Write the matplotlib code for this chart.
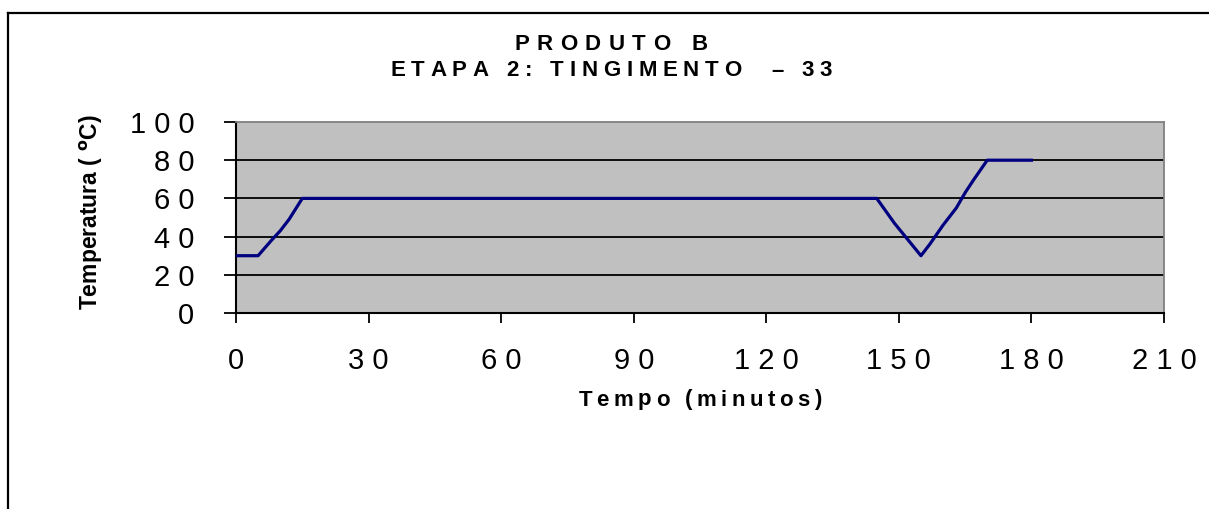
import numpy as np
import matplotlib
matplotlib.use('Agg')
import matplotlib.pyplot as plt
from matplotlib.font_manager import FontProperties
from matplotlib.textpath import text_to_path
from matplotlib.lines import Line2D

# dados
tempo = [0, 5, 8, 10, 12, 15, 145, 149, 155, 157, 160, 163, 165, 167, 170, 180]
temperatura = [30, 30, 38, 43, 49, 60, 60, 47, 30, 36, 46, 55, 63, 70, 80, 80]

xticks = [0, 30, 60, 90, 120, 150, 180, 210]
yticks = [0, 20, 40, 60, 80, 100]
xtick_labels = [' '.join(str(v)) for v in xticks]
ytick_labels = [' '.join(str(v)) for v in yticks]

titulo1 = 'PRODUTO B'
titulo2 = 'ETAPA 2: TINGIMENTO  – 33'
xlabel = 'Tempo (minutos)'
ylabel = 'Temperatura ( $^{\\mathbf{o}}$C)'

W, H = 1209, 509
DPI = 100
FONT = 'Liberation Sans'

fig = plt.figure(figsize=(W / DPI, H / DPI), dpi=DPI)


def texto_espacado(xc, yc, s, size, track, weight='bold'):
    # escreve letra por letra com espacamento extra (px), centrado em (xc, yc) px
    fp = FontProperties(family=FONT, size=size, weight=weight)
    larg = []
    for c in s:
        if c == ' ':
            larg.append(0.278 * size * DPI / 72)
        else:
            w, h, d = text_to_path.get_text_width_height_descent(c, fp, ismath=False)
            larg.append(w * DPI / 72)
    total = sum(larg) + track * (len(s) - 1)
    x = xc - total / 2
    for c, w in zip(s, larg):
        if c != ' ':
            fig.text(x / W, 1 - yc / H, c, fontproperties=fp, ha='left', va='center')
        x += w + track


ax = fig.add_axes([236 / W, 1 - 313 / H, (1164 - 236) / W, (313 - 122) / H])
ax.set_facecolor('#C0C0C0')
ax.plot(tempo, temperatura, color='#000080', lw=2.3, solid_joinstyle='round', zorder=3)

ax.set_xlim(0, 210)
ax.set_ylim(0, 100)
ax.set_xticks(xticks)
ax.set_xticklabels(xtick_labels, fontsize=21, family=FONT)
ax.set_yticks(yticks)
ax.set_yticklabels(ytick_labels, fontsize=21, family=FONT)
ax.tick_params(axis='x', direction='out', length=7.5, width=1.3, pad=17)
ax.tick_params(axis='y', direction='out', length=9, width=1.3, pad=21)

for v in yticks[1:-1]:
    ax.axhline(v, color='black', lw=1.3, zorder=1)

ax.spines['left'].set_linewidth(1.5)
ax.spines['bottom'].set_linewidth(1.5)
ax.spines['top'].set_color('#808080')
ax.spines['right'].set_color('#808080')
ax.spines['top'].set_linewidth(1.3)
ax.spines['right'].set_linewidth(1.3)

# titulos
texto_espacado(611, 44, titulo1, 16, 7.5)
texto_espacado(611, 71, titulo2, 16, 5.8)
texto_espacado(700, 400, xlabel, 16, 4.5)

fig.text(91 / W, 1 - 212 / H, ylabel, rotation=90, ha='center', va='center',
         fontsize=16.5, fontweight='bold', family=FONT)

# moldura do grafico
fig.add_artist(Line2D([7.5 / W, 7.5 / W], [0, 1 - 12.5 / H], color='black', lw=1.6))
fig.add_artist(Line2D([7.5 / W, 1], [1 - 12.5 / H, 1 - 12.5 / H], color='black', lw=1.6))

fig.savefig('out.png', dpi=DPI)
